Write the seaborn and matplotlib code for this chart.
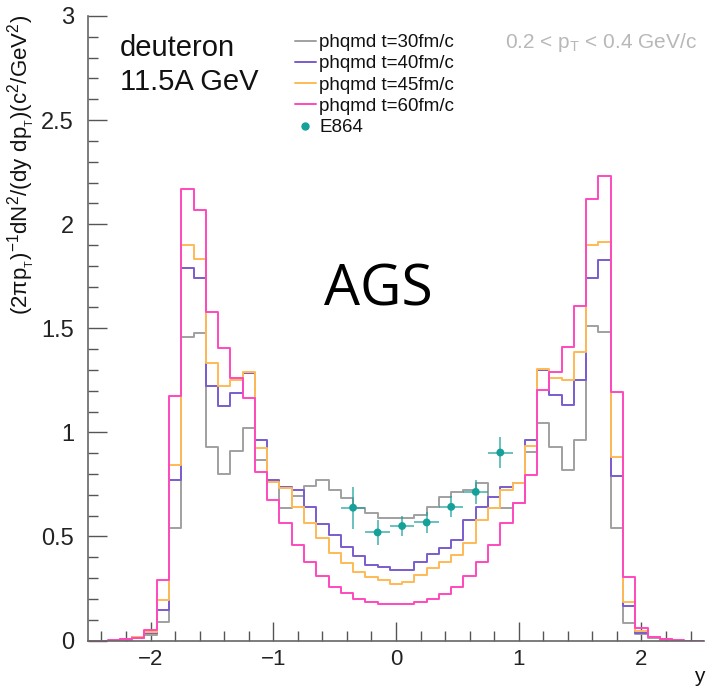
import numpy as np
import pandas as pd
import matplotlib
matplotlib.use("Agg")
import matplotlib.pyplot as plt
from matplotlib.lines import Line2D
from matplotlib.ticker import MultipleLocator
import seaborn as sns

# ---------------- data ----------------
rapidity = [-2.5, -2.4, -2.3, -2.2, -2.1, -2.0, -1.9, -1.8, -1.7, -1.6,
            -1.5, -1.4, -1.3, -1.2, -1.1, -1.0, -0.9, -0.8, -0.7, -0.6,
            -0.5, -0.4, -0.3, -0.2, -0.1, 0.0, 0.1, 0.2, 0.3, 0.4,
            0.5, 0.6, 0.7, 0.8, 0.9, 1.0, 1.1, 1.2, 1.3, 1.4,
            1.5, 1.6, 1.7, 1.8, 1.9, 2.0, 2.1, 2.2, 2.3, 2.4, 2.5]

t30 = [0, 0, 0, 0.004, 0.012, 0.025, 0.088, 0.539, 1.458, 1.479,
       0.930, 0.800, 0.909, 1.019, 0.865, 0.760, 0.635, 0.695, 0.740, 0.771,
       0.723, 0.683, 0.635, 0.614, 0.587, 0.587, 0.587, 0.603, 0.643, 0.691,
       0.712, 0.723, 0.755, 0.635, 0.635, 0.659, 0.906, 1.043, 0.930, 0.819,
       0.963, 1.510, 1.480, 0.539, 0.086, 0.030, 0.012, 0.004, 0, 0, 0]

t40 = [0, 0, 0, 0.005, 0.015, 0.035, 0.146, 0.771, 1.790, 1.742,
       1.222, 1.128, 1.190, 1.286, 0.963, 0.771, 0.738, 0.723, 0.643, 0.562,
       0.506, 0.450, 0.406, 0.362, 0.354, 0.338, 0.338, 0.378, 0.415, 0.443,
       0.482, 0.578, 0.642, 0.690, 0.738, 0.758, 0.965, 1.299, 1.179, 1.131,
       1.251, 1.739, 1.827, 0.790, 0.166, 0.036, 0.015, 0.005, 0, 0, 0]

t45 = [0, 0, 0, 0.005, 0.015, 0.040, 0.194, 0.843, 1.902, 1.835,
       1.331, 1.222, 1.250, 1.290, 0.923, 0.760, 0.731, 0.643, 0.563, 0.490,
       0.418, 0.370, 0.330, 0.306, 0.290, 0.270, 0.282, 0.314, 0.347, 0.378,
       0.410, 0.469, 0.578, 0.635, 0.722, 0.758, 0.934, 1.303, 1.259, 1.251,
       1.384, 1.902, 1.915, 0.882, 0.186, 0.045, 0.015, 0.005, 0, 0, 0]

t60 = [0, 0, 0.002, 0.005, 0.010, 0.050, 0.290, 1.174, 2.171, 2.067,
       1.576, 1.403, 1.259, 1.163, 0.810, 0.675, 0.563, 0.458, 0.378, 0.310,
       0.258, 0.227, 0.198, 0.186, 0.174, 0.174, 0.174, 0.186, 0.198, 0.222,
       0.258, 0.310, 0.378, 0.458, 0.563, 0.659, 0.795, 1.203, 1.291, 1.411,
       1.606, 2.123, 2.230, 1.195, 0.306, 0.058, 0.015, 0.005, 0.002, 0, 0]

e864_y = [-0.35, -0.15, 0.05, 0.25, 0.45, 0.65, 0.85]
e864_val = [0.638, 0.519, 0.550, 0.567, 0.642, 0.714, 0.903]
e864_err = [0.100, 0.060, 0.050, 0.050, 0.050, 0.058, 0.074]
e864_xerr = [0.1, 0.1, 0.1, 0.1, 0.1, 0.1, 0.1]

series_labels = ["phqmd t=30fm/c", "phqmd t=40fm/c", "phqmd t=45fm/c", "phqmd t=60fm/c"]
series_colors = ["#a0a0a0", "#7a5ccf", "#ffba55", "#ff48bd"]
data_label = "E864"
data_color = "#16a09a"

# ---------------- figure ----------------
sns.set_theme(style="white")
plt.rcParams["font.family"] = ["Liberation Sans", "DejaVu Sans"]
plt.rcParams["mathtext.default"] = "regular"

W, H = 706, 687
fig = plt.figure(figsize=(W / 100, H / 100), dpi=100)
ax = fig.add_axes([88 / W, 1 - 640.5 / H, (704 - 88) / W, (640.5 - 16) / H])

for vals, col in zip([t30, t40, t45, t60], series_colors):
    df = pd.DataFrame({"y": rapidity, "w": vals})
    sns.histplot(data=df, x="y", weights="w", binwidth=0.1, binrange=(-2.55, 2.55),
                 element="step", fill=False, color=col, linewidth=1.4, ax=ax)

ax.errorbar(e864_y, e864_val, yerr=e864_err, xerr=e864_xerr, fmt="none",
            ecolor=data_color, elinewidth=1.3, alpha=0.7, zorder=5)
sns.scatterplot(x=e864_y, y=e864_val, color=data_color, s=32, edgecolor="none",
                ax=ax, zorder=6)

ax.set_xlim(-2.51, 2.51)
ax.set_ylim(0, 3)
ax.set_ylabel("")
ax.set_xlabel("")

ax.xaxis.set_major_locator(MultipleLocator(1))
ax.xaxis.set_minor_locator(MultipleLocator(0.2))
ax.yaxis.set_major_locator(MultipleLocator(0.5))
ax.yaxis.set_minor_locator(MultipleLocator(0.1))
ax.set_yticks([0, 0.5, 1, 1.5, 2, 2.5, 3])
ax.set_yticklabels(["0", "0.5", "1", "1.5", "2", "2.5", "3"])
ax.set_xticks([-2, -1, 0, 1, 2])
ax.set_xticklabels(["\u22122", "\u22121", "0", "1", "2"])

ax.tick_params(which="major", direction="in", length=13.5, width=1.0, color="#555555",
               labelsize=16, labelcolor="#222222", left=True, bottom=True)
ax.tick_params(which="minor", direction="in", length=7, width=1.0, color="#555555",
               left=True, bottom=True)
ax.tick_params(axis="y", pad=10, labelsize=17)
ax.tick_params(axis="x", pad=6)

for side in ["left", "bottom"]:
    ax.spines[side].set_color("#666666")
    ax.spines[side].set_linewidth(1.2)
for side in ["top", "right"]:
    ax.spines[side].set_visible(False)

# axis titles
fig.text(22 / W, 1 - 15 / H,
         r"$(2\pi p_{_T})^{-1}dN^{2}/(dy\ dp_{_T})(c^{2}/GeV^{2})$",
         rotation=90, ha="center", va="top", fontsize=16, color="#111111")
fig.text(699 / W, 1 - 676 / H, "y", ha="center", va="center", fontsize=15, color="#111111")

# annotations
fig.text(120 / W, 1 - 48 / H, "deuteron", ha="left", va="center", fontsize=21, color="#111111")
fig.text(120 / W, 1 - 82 / H, "11.5A GeV", ha="left", va="center", fontsize=21, color="#111111")
fig.text(378 / W, 1 - 291 / H, "AGS", ha="center", va="center", fontsize=41,
         family=["Open Sans", "DejaVu Sans"], color="black")
fig.text(697 / W, 1 - 43 / H, r"0.2 < $p_{T}$ < 0.4 GeV/c", ha="right", va="center",
         fontsize=15, color="#b8b8b8")

handles = [Line2D([0], [0], color=c, lw=1.4) for c in series_colors]
handles.append(Line2D([0], [0], color=data_color, marker="o", markersize=5, lw=0))
labels = series_labels + [data_label]
leg = fig.legend(handles, labels, loc="upper left", bbox_to_anchor=(295 / W, 1 - 34 / H),
                 frameon=False, fontsize=13.5, handlelength=1.1, handletextpad=0.2,
                 labelspacing=0.22, borderpad=0, borderaxespad=0)
for t in leg.get_texts():
    t.set_color("#111111")

fig.savefig("out.png", dpi=100)
